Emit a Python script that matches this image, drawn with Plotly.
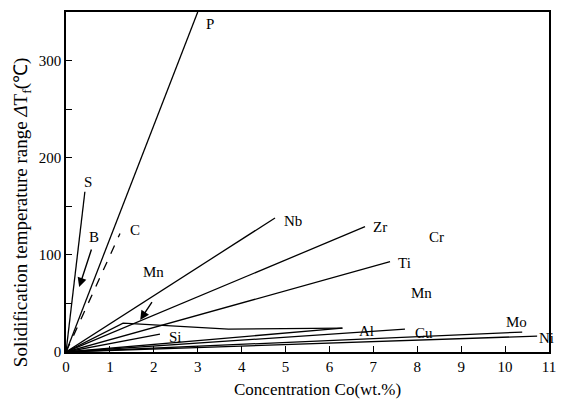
import plotly.graph_objects as go

# Straight lines from the origin: end points (concentration wt.%, ΔT °C)
elements = ["P", "S", "Nb", "Zr", "Ti", "Si", "Al", "Cu", "Mo", "Ni"]
end_conc = [3.0, 0.43, 4.76, 6.81, 7.38, 2.14, 6.29, 7.72, 10.39, 10.73]
end_dT = [350, 165, 138, 129, 93, 18.5, 24.6, 23.6, 20.5, 16.4]

# Dashed C line
c_conc = [0, 1.23]
c_dT = [0, 122]

# Kinked Mn line
mn_conc = [0, 1.3, 3.7, 6.3]
mn_dT = [0, 29.7, 23.5, 24.6]

# Label texts and positions
label_text = ["P", "S", "B", "C", "Mn", "Nb", "Zr", "Cr", "Ti", "Mn", "Si", "Al", "Cu", "Mo", "Ni"]
label_x = [3.27, 0.50, 0.63, 1.56, 1.99, 5.18, 7.15, 8.43, 7.70, 8.10, 2.50, 6.85, 8.15, 10.25, 10.95]
label_y = [338, 175, 118, 126, 82, 135, 129, 118, 92, 61, 15, 22, 19.5, 31, 14]

# Arrows (tail -> head)
arrow_tail_x = [0.59, 1.98]
arrow_tail_y = [107, 53]
arrow_head_x = [0.30, 1.69]
arrow_head_y = [67, 33]

FONT = "Liberation Serif"

fig = go.Figure()
for name, xe, ye in zip(elements, end_conc, end_dT):
    fig.add_trace(go.Scatter(x=[0, xe], y=[0, ye], mode="lines", name=name,
                             line=dict(color="black", width=1.3), showlegend=False))
fig.add_trace(go.Scatter(x=c_conc, y=c_dT, mode="lines", name="C",
                         line=dict(color="black", width=1.3, dash="dash"), showlegend=False))
fig.add_trace(go.Scatter(x=mn_conc, y=mn_dT, mode="lines", name="Mn",
                         line=dict(color="black", width=1.3), showlegend=False))

for t, x, y in zip(label_text, label_x, label_y):
    fig.add_annotation(x=x, y=y, text=t, showarrow=False, xref="x", yref="y",
                       font=dict(family=FONT, size=15, color="black"))

for tx, ty, hx, hy in zip(arrow_tail_x, arrow_tail_y, arrow_head_x, arrow_head_y):
    fig.add_annotation(x=hx, y=hy, ax=tx, ay=ty, xref="x", yref="y", axref="x", ayref="y",
                       text="", showarrow=True, arrowhead=2, arrowsize=1.3, arrowwidth=1.4,
                       arrowcolor="black")

# Axis titles
fig.add_annotation(text="Concentration Co(wt.%)", x=0.52, y=-0.111, xref="paper", yref="paper",
                   showarrow=False, xanchor="center", yanchor="middle",
                   font=dict(family=FONT, size=17, color="black"))
fig.add_annotation(text="Solidification temperature range <i>Δ</i>T<sub>f</sub>(℃)",
                   x=-0.092, y=0.41, xref="paper", yref="paper", textangle=-90,
                   showarrow=False, xanchor="center", yanchor="middle",
                   font=dict(family=FONT, size=19, color="black"))

fig.update_layout(
    width=575, height=396,
    margin=dict(l=58, r=34, t=2, b=52),
    paper_bgcolor="white", plot_bgcolor="white",
    font=dict(family=FONT, size=15, color="black"),
)
fig.update_xaxes(range=[0, 11], dtick=1, tick0=0, ticks="inside", ticklen=6,
                 tickwidth=1.2, tickcolor="black", showgrid=False, zeroline=False,
                 showline=True, linecolor="black", linewidth=1.6, mirror=True,
                 tickfont=dict(family=FONT, size=15))
fig.update_yaxes(range=[0, 350], tickvals=[0, 100, 200, 300], ticks="inside", ticklen=6,
                 tickwidth=1.2, tickcolor="black", showgrid=False, zeroline=False,
                 showline=True, linecolor="black", linewidth=1.6, mirror=True,
                 minor=dict(tickvals=[50, 150, 250], ticks="inside", ticklen=6,
                            tickcolor="black", tickwidth=1.2),
                 tickfont=dict(family=FONT, size=15))

fig.write_html("out.html")
